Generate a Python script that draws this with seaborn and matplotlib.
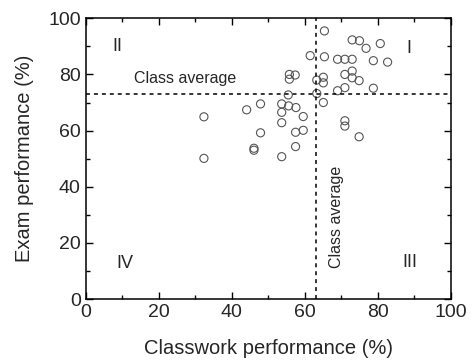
import matplotlib
matplotlib.use("Agg")
import matplotlib.pyplot as plt
import seaborn as sns
import pandas as pd
from matplotlib.ticker import MultipleLocator

classwork = [65.4, 73.0, 75.0, 76.8, 80.7, 61.5, 65.4, 69.0, 71.0, 73.0, 78.8, 82.7,
             55.8, 57.4, 55.8, 63.3, 65.1, 65.1, 71.0, 73.0, 73.0, 74.9, 78.8, 71.0,
             69.0, 55.5, 63.3, 65.1, 44.1, 47.9, 53.7, 55.6, 57.6, 53.7, 59.6, 32.4,
             53.7, 71.0, 71.0, 47.9, 57.5, 59.6, 74.9, 46.1, 46.1, 57.5, 53.7, 32.4]
exam = [95.5, 92.3, 92.0, 89.3, 91.0, 86.7, 86.3, 85.4, 85.4, 85.4, 84.9, 84.4,
        80.0, 79.8, 78.3, 78.0, 79.0, 77.0, 80.0, 81.2, 78.8, 77.8, 75.1, 75.3,
        74.2, 72.7, 73.2, 70.0, 67.4, 69.5, 69.5, 68.8, 68.2, 66.5, 65.0, 64.9,
        62.8, 63.5, 61.6, 59.2, 59.4, 60.1, 57.8, 53.7, 53.0, 54.3, 50.7, 50.1]
avg_classwork = 63.0
avg_exam = 73.0
quadrants = ["I", "II", "III", "IV"]
quad_x = [88.4, 8.6, 88.9, 10.8]
quad_y = [89.3, 90.1, 13.1, 12.7]

df = pd.DataFrame({"Classwork": classwork, "Exam": exam})

sns.set_style("ticks")
plt.rcParams["font.family"] = ["Liberation Sans", "DejaVu Sans"]

fig = plt.figure(figsize=(4.73, 3.63), dpi=100)
ax = fig.add_axes([0.181, 0.1763, 0.772, 0.7733])

sns.scatterplot(data=df, x="Classwork", y="Exam", ax=ax, s=34,
                facecolor="none", edgecolor="#555555", linewidth=0.8)

ax.axhline(avg_exam, color="black", linestyle=(0, (2.6, 2.6)), linewidth=1.1, zorder=1)
ax.axvline(avg_classwork, color="black", linestyle=(0, (2.6, 2.6)), linewidth=1.1, zorder=1)

ax.text(27.2, 78.7, "Class average", fontsize=11.5, ha="center", va="center")
ax.text(68.8, 29.4, "Class average", fontsize=11.5, ha="center", va="center", rotation=90)
for q, qx, qy in zip(quadrants, quad_x, quad_y):
    ax.text(qx, qy, q, fontsize=13, ha="center", va="center")

ax.set_xlim(0, 100)
ax.set_ylim(0, 100)
ax.xaxis.set_major_locator(MultipleLocator(20))
ax.yaxis.set_major_locator(MultipleLocator(20))
ax.xaxis.set_minor_locator(MultipleLocator(10))
ax.yaxis.set_minor_locator(MultipleLocator(10))
ax.tick_params(which="both", direction="in", top=True, right=True, labelsize=14,
               width=1, color="black")
ax.tick_params(which="major", length=5)
ax.tick_params(which="minor", length=3)
for sp in ax.spines.values():
    sp.set_visible(True)
    sp.set_linewidth(1.1)
    sp.set_color("black")

ax.set_xlabel("Classwork performance (%)", fontsize=14.5, labelpad=13)
ax.set_ylabel("Exam performance (%)", fontsize=14.5, labelpad=10.5)

fig.savefig("out.png", dpi=100)
